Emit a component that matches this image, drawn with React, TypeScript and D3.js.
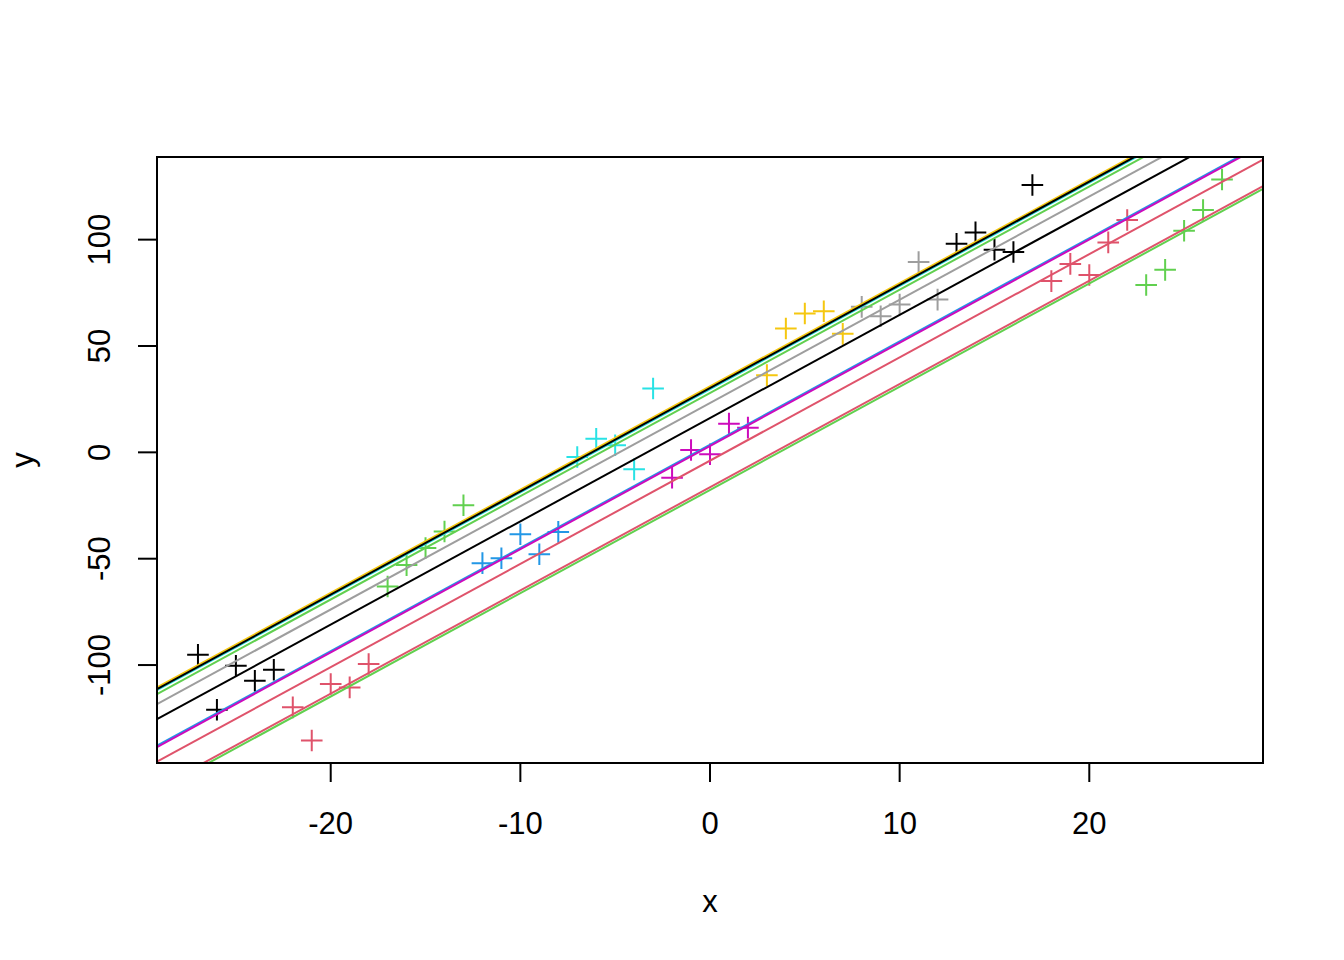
import * as d3 from 'd3'

// points, one per x, five per group
const xValues = [
  -27, -26, -25, -24, -23, -22, -21, -20, -19, -18, -17, -16, -15, -14,
  -13, -12, -11, -10, -9, -8, -7, -6, -5, -4, -3, -2, -1, 0, 1, 2, 3, 4,
  5, 6, 7, 8, 9, 10, 11, 12, 13, 14, 15, 16, 17, 18, 19, 20, 21, 22, 23,
  24, 25, 26, 27,
]
const yValues = [
  -95.2, -121.0, -100.3, -107.4, -102.2,
  -119.9, -135.5, -108.9, -110.5, -99.5,
  -63.1, -53.0, -45.0, -37.2, -24.9,
  -52.1, -49.8, -38.5, -47.9, -37.4,
  -2.2, 6.4, 3.3, -8.0, 30.0,
  -11.9, 1.1, -0.9, 13.5, 11.6,
  36.3, 58.2, 65.3, 66.3, 55.7,
  68.4, 64.0, 69.5, 89.5, 71.8,
  98.1, 103.4, 95.3, 94.2, 125.7,
  80.5, 88.6, 83.4, 98.7, 109.2,
  78.7, 85.8, 104.2, 113.9, 128.3,
]
const groupIds = [
  0, 0, 0, 0, 0, 1, 1, 1, 1, 1, 2, 2, 2, 2, 2, 3, 3, 3, 3, 3,
  4, 4, 4, 4, 4, 5, 5, 5, 5, 5, 6, 6, 6, 6, 6, 7, 7, 7, 7, 7,
  8, 8, 8, 8, 8, 9, 9, 9, 9, 9, 10, 10, 10, 10, 10,
]

// fitted lines: common slope, one intercept per group
const slope = 4.854
const intercepts = [16.1, -16.4, 27.9, 3.6, 29.7, 3.0, 31.0, 23.2, 30.2, -3.9, -17.7]

// R default palette, recycled
const palette = ['#000000', '#DF536B', '#61D04F', '#2297E6', '#28E2E5', '#CD0BBC', '#F5C710', '#9E9E9E']

const xTicks = [-20, -10, 0, 10, 20]
const yTicks = [-100, -50, 0, 50, 100]

const W = 1344
const H = 960
const plot = { left: 157, right: 1263, top: 157, bottom: 763 }
const font = '"Liberation Sans", Arial, Helvetica, sans-serif'

function padded(ext: [number, number]): [number, number] {
  const r = ext[1] - ext[0]
  return [ext[0] - 0.04 * r, ext[1] + 0.04 * r]
}

export default function App() {
  const x = d3.scaleLinear()
    .domain(padded(d3.extent(xValues) as [number, number]))
    .range([plot.left, plot.right])
  const y = d3.scaleLinear()
    .domain(padded(d3.extent(yValues) as [number, number]))
    .range([plot.bottom, plot.top])

  const [x0, x1] = x.domain()
  const h = 10.8

  return (
    <svg width={W} height={H} style={{ position: 'absolute', left: 0, top: 0, background: '#fff' }}
      fontFamily={font}>
      <defs>
        <clipPath id="plotclip">
          <rect x={plot.left} y={plot.top} width={plot.right - plot.left} height={plot.bottom - plot.top} />
        </clipPath>
      </defs>

      <g clipPath="url(#plotclip)">
        {xValues.map((xv, i) => {
          const px = x(xv)
          const py = y(yValues[i])
          return (
            <path key={'p' + i}
              d={`M${px - h},${py}H${px + h}M${px},${py - h}V${py + h}`}
              stroke={palette[groupIds[i] % palette.length]} strokeWidth={2} fill="none" />
          )
        })}
        {intercepts.map((a, g) => (
          <line key={'l' + g}
            x1={x(x0)} y1={y(a + slope * x0)} x2={x(x1)} y2={y(a + slope * x1)}
            stroke={palette[g % palette.length]} strokeWidth={2} />
        ))}
      </g>

      <rect x={plot.left} y={plot.top} width={plot.right - plot.left} height={plot.bottom - plot.top}
        fill="none" stroke="#000" strokeWidth={2} />

      {xTicks.map(t => (
        <g key={'xt' + t}>
          <line x1={x(t)} x2={x(t)} y1={plot.bottom} y2={plot.bottom + 19} stroke="#000" strokeWidth={2} />
          <text x={x(t)} y={834} fontSize={31} textAnchor="middle">{t}</text>
        </g>
      ))}
      {yTicks.map(t => (
        <g key={'yt' + t}>
          <line x1={plot.left - 19} x2={plot.left} y1={y(t)} y2={y(t)} stroke="#000" strokeWidth={2} />
          <text transform={`translate(110,${y(t)}) rotate(-90)`} fontSize={31} textAnchor="middle">{t}</text>
        </g>
      ))}

      <text x={(plot.left + plot.right) / 2} y={912} fontSize={31} textAnchor="middle">x</text>
      <text transform={`translate(33,${(plot.top + plot.bottom) / 2}) rotate(-90)`} fontSize={31}
        textAnchor="middle">y</text>
    </svg>
  )
}
